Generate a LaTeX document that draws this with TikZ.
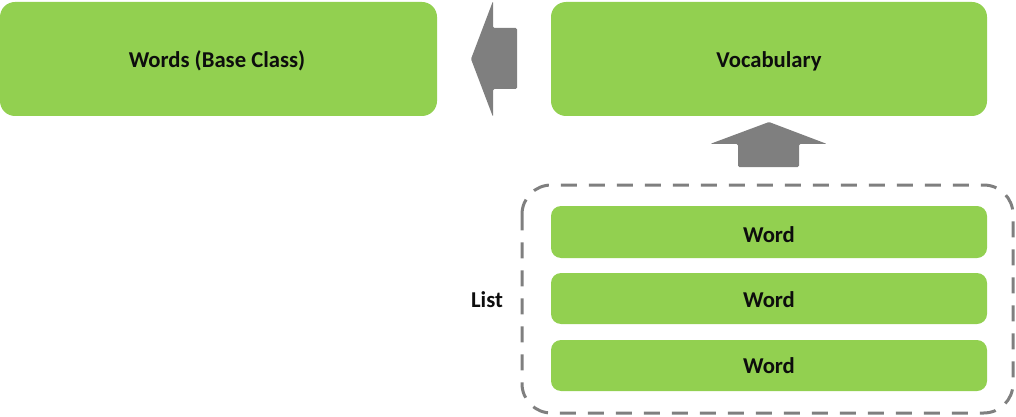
\documentclass[tikz,border=0pt]{standalone}
\usepackage{fontspec}
\setmainfont{Carlito}
\definecolor{boxgreen}{HTML}{92D050}
\definecolor{arrgray}{HTML}{7F7F7F}
\definecolor{txt}{HTML}{0D0D0D}
\begin{document}
\begin{tikzpicture}[x=0.75pt,y=-0.75pt,
  bigbox/.style={fill=boxgreen, rounded corners=11.25pt},
  wordbox/.style={fill=boxgreen, rounded corners=7.5pt},
  blockarrow/.style={fill=arrgray, rounded corners=1pt},
  lbl/.style={font=\fontsize{17}{20}\selectfont\bfseries, text=txt, anchor=base, inner sep=0pt}]
\useasboundingbox (0,0) rectangle (1016,417);
% big boxes
\path[bigbox] (0,2) rectangle (437,116);
\node[lbl] (words) at (217,68) {Words (Base Class)};
\path[bigbox] (551,2) rectangle (987,116);
\node[lbl] (vocab) at (769,68) {Vocabulary};
% word boxes
\path[wordbox] (551,206) rectangle (987,258);
\node[lbl] (w1) at (769,242) {Word};
\path[wordbox] (551,273) rectangle (987,324);
\node[lbl] (w2) at (769,307) {Word};
\path[wordbox] (551,340) rectangle (987,391);
\node[lbl] (w3) at (769,373) {Word};
% dashed list container
\draw[arrgray, line width=2.25pt, dash pattern=on 12pt off 9pt, rounded corners=22pt] (522,185) rectangle (1013,413);
\node[lbl] (list) at (487,307) {List};
% left block arrow
\path[blockarrow] (471,59) -- (493,1) -- (493,28) -- (517,28) -- (517,89) -- (493,89) -- (493,117) -- cycle;
% up block arrow
\path[blockarrow] (769,122) -- (827,144) -- (799,144) -- (799,167) -- (738,167) -- (738,144) -- (710,144) -- cycle;
\end{tikzpicture}
\end{document}
